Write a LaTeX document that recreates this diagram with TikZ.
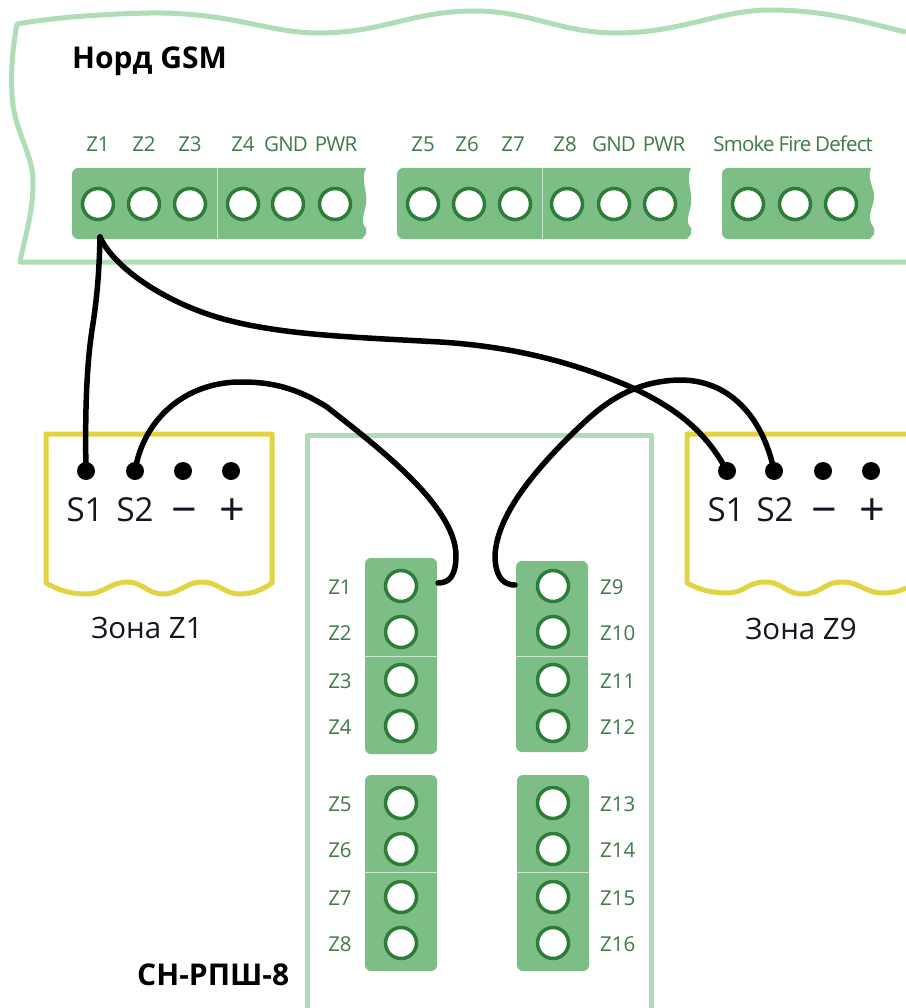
\documentclass[tikz,border=0pt]{standalone}
\usepackage{fontspec}
\setmainfont{Open Sans}
\definecolor{blockg}{HTML}{7CBE86}
\definecolor{holeg}{HTML}{2E7C3A}
\definecolor{lineg}{HTML}{AEDDB7}
\definecolor{divg}{HTML}{C9E8CE}
\definecolor{labg}{HTML}{3E7A4A}
\definecolor{zoney}{HTML}{E2D342}
\definecolor{ink}{HTML}{151520}
\tikzset{
  hole/.style={circle,draw=holeg,fill=white,line width=3.5pt,minimum size=31pt,inner sep=0pt},
  smalllab/.style={text=labg,font=\fontsize{20.5}{22}\selectfont,inner sep=0pt},
  tightlab/.style={smalllab,font=\fontsize{20.5}{22}\selectfont\addfontfeature{LetterSpace=-4}},
  biglab/.style={text=ink,font=\fontsize{33}{36}\selectfont,inner sep=0pt},
  signlab/.style={text=ink,font=\fontsize{45}{48}\selectfont,inner sep=0pt,anchor=base},
  zonelab/.style={text=ink,font=\fontsize{29.5}{32}\selectfont,inner sep=0pt},
  titlelab/.style={text=black,font=\fontsize{30}{33}\selectfont\bfseries,inner sep=0pt},
  blk/.style={fill=blockg,draw=none},
  divider/.style={draw=divg,line width=1pt},
  panel/.style={draw=lineg,line width=5pt,line join=round},
  zonebox/.style={draw=zoney,line width=5pt,line join=round},
  pin/.style={circle,fill=black,minimum size=18pt,inner sep=0pt},
  wire/.style={draw=black,line width=5.5pt,line cap=round}
}
\begin{document}
\begin{tikzpicture}[x=1pt,y=-1pt]
\useasboundingbox (0,0) rectangle (905,1008);
\fill[white] (0,0) rectangle (905,1008);
% main panel
\draw[panel] (906,32) .. controls (870,24) and (830,10) .. (770,10)
  .. controls (720,10) and (680,33) .. (617,33)
  .. controls (560,33) and (530,11) .. (475,11)
  .. controls (410,11) and (385,33) .. (317,33)
  .. controls (270,33) and (230,12) .. (150,13)
  .. controls (100,14) and (50,18) .. (17,24)
  .. controls (12,50) and (10,80) .. (13,105)
  .. controls (17,135) and (33,155) .. (33,182)
  .. controls (33,215) and (25,235) .. (20,262)
  -- (906,262);
% terminal blocks top
\path[blk] (78,168) -- (366,168) .. controls (360,180) and (368,190) .. (366,204)
  .. controls (364,215) and (360,222) .. (366,228) -- (366,234) -- (362,239) -- (78,239)
  .. controls (75,239) and (72,236) .. (72,233) -- (72,174) .. controls (72,171) and (75,168) .. (78,168) -- cycle;
\path[blk] (403,168) -- (691,168) .. controls (685,180) and (693,190) .. (691,204)
  .. controls (689,215) and (685,222) .. (691,228) -- (691,234) -- (687,239) -- (403,239)
  .. controls (400,239) and (397,236) .. (397,233) -- (397,174) .. controls (397,171) and (400,168) .. (403,168) -- cycle;
\path[blk] (728,168) -- (871,168) .. controls (866,180) and (876,190) .. (874,199)
  .. controls (872,210) and (866,218) .. (874,228) -- (874,234) -- (870,239) -- (728,239)
  .. controls (725,239) and (722,236) .. (722,233) -- (722,174) .. controls (722,171) and (725,168) .. (728,168) -- cycle;
\draw[divider] (217,168) -- (217,239);
\draw[divider] (542,168) -- (542,239);
\foreach \n/\x in {a1/98,a2/144,a3/190,a4/243,a5/288,a6/335,a7/423,a8/469,a9/515,a10/567,a11/614,a12/660,a13/748,a14/795,a15/841}
  \node[hole] (\n) at (\x,204) {};
\foreach \n/\x/\t in {l1/98/Z1,l2/144/Z2,l3/190/Z3,l4/243/Z4,l7/423/Z5,l8/467/Z6,l9/513/Z7,l10/565/Z8}
  \node[smalllab] (\n) at (\x,144) {\t};
\node[tightlab] (l5) at (286,144) {GND};
\node[tightlab] (l6) at (336,144) {PWR};
\node[tightlab] (l11) at (614,144) {GND};
\node[tightlab] (l12) at (664,144) {PWR};
\node[tightlab] (l13) at (744,144) {Smoke};
\node[tightlab] (l14) at (795,144) {Fire};
\node[tightlab] (l15) at (844,144) {Defect};
\node[titlelab,anchor=west] (title) at (72,61) {Норд GSM};
% zones
\draw[zonebox] (46,434) -- (272,434) -- (272,583)
  .. controls (262,590) and (252,594) .. (240,594) .. controls (224,594) and (218,582) .. (202,582)
  .. controls (186,582) and (179,594) .. (163,594) .. controls (147,594) and (143,582) .. (127,582)
  .. controls (111,582) and (103,594) .. (87,594) .. controls (72,594) and (60,591) .. (46,583) -- cycle;
\draw[zonebox] (906,588) .. controls (900,591) and (893,593) .. (883,593)
  .. controls (865,593) and (860,582) .. (842,582) .. controls (824,582) and (821,594) .. (803,594)
  .. controls (785,594) and (783,582) .. (765,582) .. controls (747,582) and (745,593) .. (727,593)
  .. controls (712,593) and (700,590) .. (687,583) -- (687,434) -- (906,434);
% panel 2
\draw[panel] (307,1010) -- (307,435) -- (651,435) -- (651,1010);
% vertical blocks
\path[blk,rounded corners=6pt] (365,558) rectangle (437,754);
\path[blk,rounded corners=6pt] (365,775) rectangle (437,971);
\path[blk,rounded corners=6pt] (516,561) rectangle (588,752);
\path[blk,rounded corners=6pt] (517,775) rectangle (589,971);
\draw[divider] (365,656) -- (437,656);
\draw[divider] (365,872) -- (437,872);
\draw[divider] (516,656) -- (588,656);
\draw[divider] (517,872) -- (589,872);
\foreach \i/\y in {1/586,2/632,3/680,4/726,5/803,6/849,7/897,8/943}{
  \node[hole] (b\i) at (401,\y) {};
  \node[smalllab] (bl\i) at (340,\y+1) {Z\i};
}
\foreach \i/\y in {9/586,10/632,11/680,12/726,13/803,14/849,15/897,16/943}{
  \node[hole] (c\i) at (553,\y) {};
  \node[smalllab,anchor=west] (cl\i) at (600,\y+1) {Z\i};
}
\node[titlelab,anchor=west] (ch) at (137,975) {СН-РПШ-8};
% pins
\foreach \n/\x in {p1/86,p2/135,p3/183,p4/231,q1/727,q2/774,q3/823,q4/871}
  \node[pin] (\n) at (\x,471) {};
\node[biglab] (s1) at (85,510) {S1};
\node[biglab] (s2) at (135,510) {S2};
\node[signlab] (s3) at (184,525) {−};
\node[signlab] (s4) at (232,525) {+};
\node[biglab] (t1) at (726,510) {S1};
\node[biglab] (t2) at (775,510) {S2};
\node[signlab] (t3) at (824,525) {−};
\node[signlab] (t4) at (872,525) {+};
\node[zonelab] (z1) at (147,628) {Зона Z1};
\node[zonelab] (z9) at (801,629) {Зона Z9};
% wires
\coordinate (ta) at (100,237);
\coordinate (tb) at (438,583);
\coordinate (tc) at (515,585);
\draw[wire] (ta) .. controls (99,280) and (96,305) .. (92,330)
  .. controls (86,370) and (85,420) .. (p1.center);
\draw[wire] (ta) .. controls (115,270) and (170,305) .. (227,320)
  .. controls (285,335) and (350,337) .. (440,342)
  .. controls (520,347) and (580,365) .. (633,388)
  .. controls (675,408) and (705,430) .. (q1.center);
\draw[wire] (p2.center) .. controls (143,420) and (185,381) .. (243,382)
  .. controls (275,382) and (300,390) .. (327,407)
  .. controls (375,445) and (455,505) .. (456,555)
  .. controls (456,575) and (450,583) .. (tb);
\draw[wire] (tc) .. controls (500,585) and (495,572) .. (495,555)
  .. controls (497,520) and (525,480) .. (573,433)
  .. controls (595,412) and (625,381) .. (680,380)
  .. controls (735,380) and (765,425) .. (q2.center);
\end{tikzpicture}
\end{document}
